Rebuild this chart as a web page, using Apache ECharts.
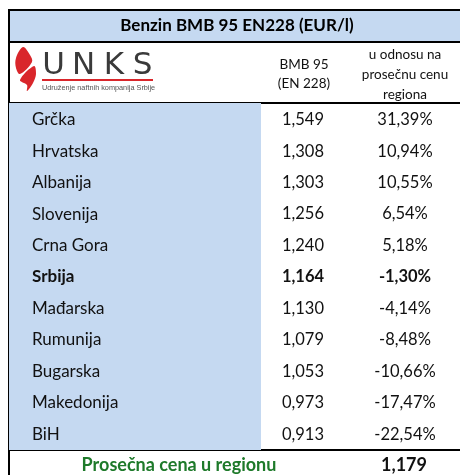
<!DOCTYPE html>
<html>
<head>
<meta charset="utf-8">
<script src="https://cdn.jsdelivr.net/npm/echarts@6/dist/echarts.min.js"></script>
<style>
  html, body { margin: 0; padding: 0; background: #fff; }
  #main { width: 460px; height: 475px; }
</style>
</head>
<body>
<div id="main"></div>
<script>
// podaci
var countries = ['Grčka', 'Hrvatska', 'Albanija', 'Slovenija', 'Crna Gora', 'Srbija',
                 'Mađarska', 'Rumunija', 'Bugarska', 'Makedonija', 'BiH'];
var prices = [1.549, 1.308, 1.303, 1.256, 1.240, 1.164, 1.130, 1.079, 1.053, 0.973, 0.913];
var diffs = [31.39, 10.94, 10.55, 6.54, 5.18, -1.30, -4.14, -8.48, -10.66, -17.47, -22.54];
var avgPrice = 1.179;
var highlight = 'Srbija';

var titleText = 'Benzin BMB 95 EN228 (EUR/l)';
var colHead1 = 'BMB 95\n(EN 228)';
var colHead2 = 'u odnosu na\nprosečnu cenu\nregiona';
var footerText = 'Prosečna cena u regionu';

var FONT = 'Lato';
var BLUE = '#c5d9f1';
var RED = '#d9262b';

function fmt(v, d) {
    return v.toFixed(d).replace('.', ',');
}

var rows = countries.map(function (c, i) {
    return [i, prices[i], diffs[i]];
});

// granice kolona (u jedinicama x ose = pikseli mreže)
var nameColEnd = 252, col2Center = 294, col3Center = 396;

// slova logotipa
var logoLetters = [['U', 53.5], ['N', 83.5], ['K', 114], ['S', 142.5]].map(function (l) {
    return { type: 'text', z: 10, style: { x: l[1], y: 66, text: l[0], align: 'center', verticalAlign: 'middle',
        fontSize: 31, fontFamily: 'DejaVu Sans', fill: '#3a3a3a' } };
});

var option = {
    animation: false,
    grid: { left: 9, right: 0, top: 103, height: 346 },
    xAxis: { type: 'value', min: 0, max: 451, show: false },
    yAxis: { type: 'category', data: countries, inverse: true, show: false },
    series: [{
        type: 'custom',
        encode: { y: 0, x: 1 },
        data: rows,
        renderItem: function (params, api) {
            var idx = api.value(0);
            var p0 = api.coord([0, idx]);
            var p1 = api.coord([nameColEnd, idx]);
            var c2 = api.coord([col2Center, idx])[0];
            var c3 = api.coord([col3Center, idx])[0];
            var h = api.size([0, 1])[1];
            var bold = countries[idx] === highlight ? 'bold' : 'normal';
            var txt = function (x, s, align, size) {
                return {
                    type: 'text',
                    style: {
                        x: x, y: p0[1] + 1, text: s, align: align, verticalAlign: 'middle',
                        fill: '#111', font: bold + ' ' + size + 'px ' + FONT
                    }
                };
            };
            return {
                type: 'group',
                children: [
                    { type: 'rect', shape: { x: p0[0], y: Math.floor(p0[1] - h / 2), width: p1[0] - p0[0], height: Math.ceil(h) + 1 },
                      style: { fill: BLUE } },
                    txt(p0[0] + 23, countries[idx], 'left', 17),
                    txt(c2, fmt(api.value(1), 3), 'center', 16.5),
                    txt(c3, fmt(api.value(2), 2) + '%', 'center', 16.5)
                ]
            };
        }
    }],
    graphic: [
        // naslov
        { type: 'rect', shape: { x: 9, y: 10, width: 451, height: 32 }, style: { fill: BLUE } },
        { type: 'text', style: { x: 237, y: 26, text: titleText, align: 'center', verticalAlign: 'middle',
            font: 'bold 17px ' + FONT, fill: '#000' } },
        // zaglavlje kolona
        { type: 'text', style: { x: 304, y: 74, text: colHead1, align: 'center', verticalAlign: 'middle',
            font: '13.5px ' + FONT, fill: '#111', lineHeight: 19 } },
        { type: 'text', style: { x: 405, y: 75, text: colHead2, align: 'center', verticalAlign: 'middle',
            font: '13.5px ' + FONT, fill: '#111', lineHeight: 20 } },
        // logo
        { type: 'polygon', shape: { points: [[23, 47], [30, 55], [32, 62], [20, 74], [16, 68], [16, 58]], smooth: 0.35 },
          style: { fill: RED } },
        { type: 'polygon', shape: { points: [[34, 66], [36, 74], [33, 83], [27, 91], [27, 85], [20, 80]], smooth: 0.35 },
          style: { fill: RED } },
        { type: 'rect', shape: { x: 42, y: 79, width: 111, height: 2 }, style: { fill: RED } },
        { type: 'text', style: { x: 42, y: 88, text: 'Udruženje naftnih kompanija Srbije', verticalAlign: 'middle',
            fontSize: 7.3, fontFamily: 'Liberation Sans', fill: '#555' } },
        // podnožje
        { type: 'text', style: { x: 179, y: 465, text: footerText, align: 'center', verticalAlign: 'middle',
            font: 'bold 18px ' + FONT, fill: '#1e7a2a' } },
        { type: 'text', style: { x: 404, y: 465, text: fmt(avgPrice, 3), align: 'center', verticalAlign: 'middle',
            font: 'bold 18px ' + FONT, fill: '#111' } },
        // linije
        { type: 'line', shape: { x1: 9, y1: 10, x2: 460, y2: 10 }, style: { stroke: '#000', lineWidth: 2 } },
        { type: 'line', shape: { x1: 9, y1: 42, x2: 460, y2: 42 }, style: { stroke: '#000', lineWidth: 2 } },
        { type: 'line', shape: { x1: 9, y1: 103, x2: 460, y2: 103 }, style: { stroke: '#000', lineWidth: 2 } },
        { type: 'line', shape: { x1: 9, y1: 450, x2: 460, y2: 450 }, style: { stroke: '#000', lineWidth: 2 } },
        { type: 'line', shape: { x1: 9, y1: 9, x2: 9, y2: 475 }, style: { stroke: '#000', lineWidth: 2 } }
    ].concat(logoLetters)
};

var myChart = echarts.init(document.getElementById('main'));
myChart.setOption(option);
</script>
</body>
</html>
